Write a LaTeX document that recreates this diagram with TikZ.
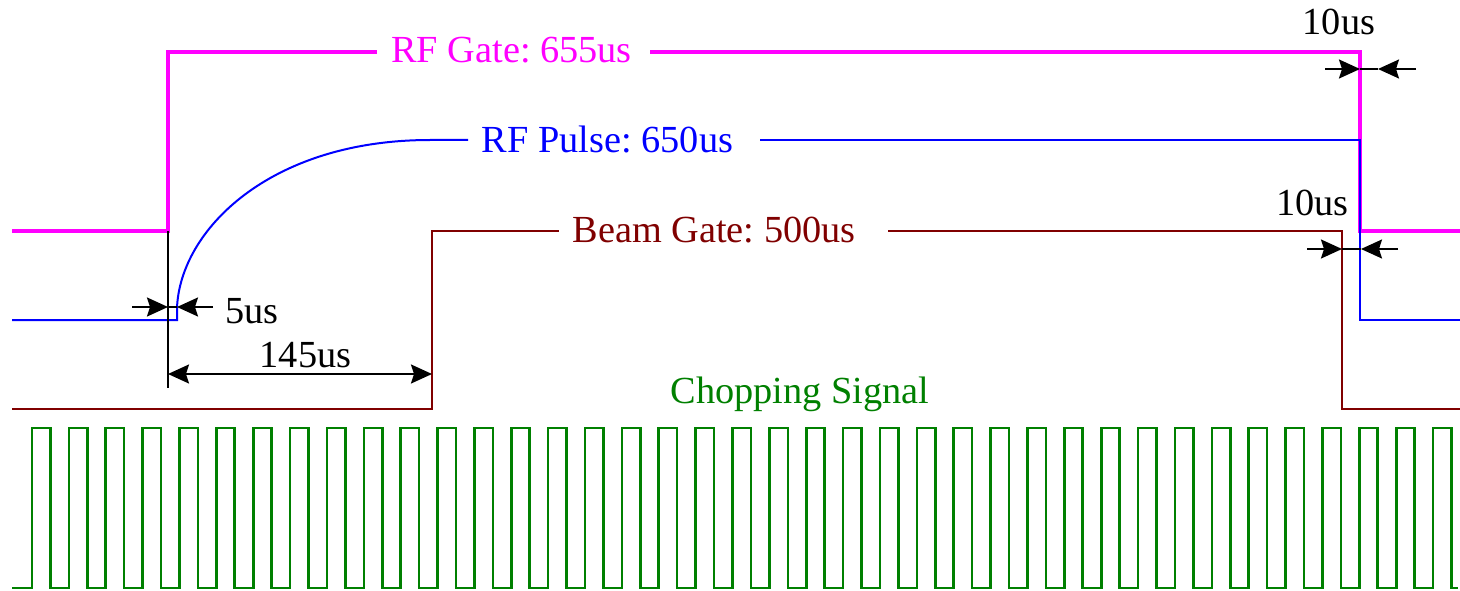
\documentclass[tikz,border=0pt]{standalone}
\usepackage{fontspec}
\setmainfont{Liberation Serif}
\usetikzlibrary{arrows.meta}
\definecolor{gatemag}{RGB}{255,0,255}
\definecolor{pulseblue}{RGB}{0,0,255}
\definecolor{beamred}{RGB}{128,0,0}
\definecolor{chopgreen}{RGB}{0,128,0}
\frenchspacing
\begin{document}
\begin{tikzpicture}[x=1pt,y=-1pt,
  lbl/.style={inner sep=0pt,anchor=base,font=\fontsize{38.3}{46}\selectfont},
  gateline/.style={draw=gatemag,line width=4pt,line join=miter},
  pulseline/.style={draw=pulseblue,line width=2pt,line join=miter},
  beamline/.style={draw=beamred,line width=2.6pt,line join=miter},
  chopline/.style={draw=chopgreen,line width=2.6pt,line join=miter},
  dimline/.style={draw=black,line width=2pt},
  tip/.style={-{Stealth[length=21pt,width=19pt,inset=3pt]}},
  tips/.style={{Stealth[length=21pt,width=19pt,inset=3pt]}-{Stealth[length=21pt,width=19pt,inset=3pt]}}
]
\useasboundingbox[fill=white] (0,0) rectangle (1460,591);

% labels
\node[lbl,text=gatemag] (gatelbl) at (511.5,63) {RF Gate: 655us};
\node[lbl,text=pulseblue] (pulselbl) at (607.5,153) {RF Pulse: 650us};
\node[lbl,text=beamred] (beamlbl) at (714,242) {Beam Gate: 500us};
\node[lbl,text=chopgreen] (choplbl) at (800,403) {Chopping Signal};
\node[lbl] (t10a) at (1339,35) {10us};
\node[lbl] (t10b) at (1312.5,215) {10us};
\node[lbl] (t5) at (252,323) {5us};
\node[lbl] (t145) at (305.5,367) {145us};

% RF gate
\draw[gateline] (12,231) -- (168,231) -- (168,52) -- (377,52);
\draw[gateline] (650,52) -- (1360,52) -- (1360,231) -- (1460,231);

% RF pulse
\draw[pulseline] (12,320) -- (177,320) -- (177,308)
  .. controls (180,230) and (270,140) .. (430,140) -- (468,140);
\draw[pulseline] (760,140) -- (1360,140) -- (1360,320) -- (1460,320);

% Beam gate
\draw[beamline] (12,409) -- (432,409) -- (432,231) -- (559,231);
\draw[beamline] (888,231) -- (1342,231) -- (1342,409) -- (1460,409);

% Chopping signal
\draw[chopline] (12,588)
  \foreach \k in {0,...,38} {
    -- ({32+36.87*\k},588) -- ({32+36.87*\k},428)
    -- ({50.4+36.87*\k},428) -- ({50.4+36.87*\k},588)
  } -- (1458,588);

% dimension coordinates
\coordinate (ref0) at (168,231);
\coordinate (ref1) at (168,388);
\coordinate (a5l) at (132,307);
\coordinate (a5lt) at (168,307);
\coordinate (a5rt) at (177,307);
\coordinate (a5r) at (213,307);
\coordinate (a145l) at (168,374);
\coordinate (a145r) at (432,374);
\coordinate (a10al) at (1325,69);
\coordinate (a10alt) at (1360,69);
\coordinate (a10art) at (1378,69);
\coordinate (a10ar) at (1416,69);
\coordinate (a10bl) at (1307,249);
\coordinate (a10blt) at (1342,249);
\coordinate (a10brt) at (1361,249);
\coordinate (a10br) at (1398,249);

\draw[dimline] (ref0) -- (ref1);
\draw[dimline,tip] (a5l) -- (a5lt);
\draw[dimline] (a5lt) -- (a5rt);
\draw[dimline,tip] (a5r) -- (a5rt);
\draw[dimline,tips] (a145l) -- (a145r);
\draw[dimline,tip] (a10al) -- (a10alt);
\draw[dimline] (a10alt) -- (a10art);
\draw[dimline,tip] (a10ar) -- (a10art);
\draw[dimline,tip] (a10bl) -- (a10blt);
\draw[dimline] (a10blt) -- (a10brt);
\draw[dimline,tip] (a10br) -- (a10brt);
\end{tikzpicture}
\end{document}
